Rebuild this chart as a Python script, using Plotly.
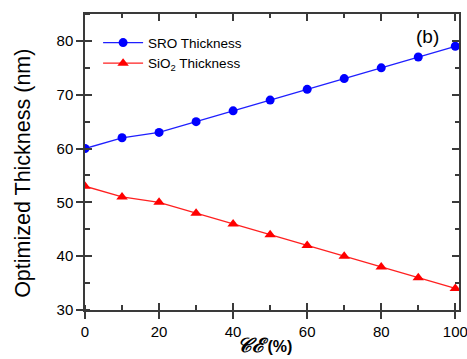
import plotly.graph_objects as go

ce = [0, 10, 20, 30, 40, 50, 60, 70, 80, 90, 100]
sro = [60, 62, 63, 65, 67, 69, 71, 73, 75, 77, 79]
sio2 = [53, 51, 50, 48, 46, 44, 42, 40, 38, 36, 34]
x_ticks = [0, 20, 40, 60, 80, 100]
y_ticks = [30, 40, 50, 60, 70, 80]

AX = "#3a3a3a"
FONT = "Liberation Sans, Arial, sans-serif"

fig = go.Figure()
fig.add_trace(go.Scatter(x=ce, y=sro, mode="lines+markers", name="SRO Thickness",
                         line=dict(color="#1f1fff", width=1.3),
                         marker=dict(symbol="circle", size=9, color="#0000ff")))
fig.add_trace(go.Scatter(x=ce, y=sio2, mode="lines+markers", name="SiO<sub>2</sub> Thickness",
                         line=dict(color="#ff2020", width=1.3),
                         marker=dict(symbol="triangle-up", size=10, color="#ff0000")))
# dummy traces for overlay tick axes
fig.add_trace(go.Scatter(x=[None], y=[None], xaxis="x2", yaxis="y2", showlegend=False, hoverinfo="skip"))
fig.add_trace(go.Scatter(x=[None], y=[None], xaxis="x3", yaxis="y3", showlegend=False, hoverinfo="skip"))

xr = [0, 101]
yr = [30, 85]

common_x = dict(range=xr, tickvals=x_ticks, showgrid=False, zeroline=False, tickcolor=AX,
                tickwidth=1.5, automargin=False)
common_y = dict(range=yr, tickvals=y_ticks, showgrid=False, zeroline=False, tickcolor=AX,
                tickwidth=1.5, automargin=False)

xtitle = ("<span style='font-family:\"DejaVu Serif\",serif;font-style:italic;font-weight:bold;font-size:20px'>𝒞ℰ</span>"
          "<b>&nbsp;(%)</b>")
ytitle = "Optimized Thickness (nm)"

fig.update_layout(
    template="none",
    width=467, height=359,
    margin=dict(l=85, r=8, t=14, b=49, autoexpand=False),
    paper_bgcolor="white", plot_bgcolor="white",
    font=dict(family=FONT, color="black"),
    showlegend=True,
    legend=dict(x=0.035, y=0.955, xanchor="left", yanchor="top", bgcolor="rgba(0,0,0,0)",
                font=dict(size=13.5, family=FONT), itemwidth=40, tracegroupgap=0),
    xaxis=dict(**common_x, side="bottom", anchor="y", ticks="outside", ticklen=7,
               showline=True, linecolor=AX, linewidth=1.5, ticklabeloverflow="allow",
               tickfont=dict(size=15, family=FONT),
               minor=dict(dtick=10, ticks="inside", ticklen=5, tickcolor=AX, tickwidth=1.5)),
    xaxis2=dict(**common_x, side="bottom", anchor="y", overlaying="x", ticks="inside", ticklen=7,
                showticklabels=False, showline=False),
    xaxis3=dict(**common_x, side="top", anchor="y", overlaying="x", ticks="inside", ticklen=7,
                showticklabels=False, showline=True, linecolor=AX, linewidth=1.5,
                minor=dict(dtick=10, ticks="inside", ticklen=4, tickcolor=AX, tickwidth=1.5)),
    yaxis=dict(**common_y, side="left", anchor="x", ticks="outside", ticklen=7,
               showline=True, linecolor=AX, linewidth=1.5,
               tickfont=dict(size=15, family=FONT),
               minor=dict(dtick=5, ticks="inside", ticklen=5, tickcolor=AX, tickwidth=1.5)),
    yaxis2=dict(**common_y, side="left", anchor="x", overlaying="y", ticks="inside", ticklen=7,
                showticklabels=False, showline=False),
    yaxis3=dict(**common_y, side="right", anchor="x", overlaying="y", ticks="inside", ticklen=7,
                showticklabels=False, showline=True, linecolor=AX, linewidth=1.5,
                minor=dict(dtick=5, ticks="inside", ticklen=4, tickcolor=AX, tickwidth=1.5)),
    annotations=[
        dict(text="(b)", xref="paper", yref="paper", x=0.952, y=0.965,
             xanchor="right", yanchor="top", showarrow=False,
             font=dict(size=19, family=FONT)),
        dict(text=ytitle, xref="paper", yref="paper", x=-0.166, y=0.463, textangle=-90,
             xanchor="center", yanchor="middle", showarrow=False,
             font=dict(size=21.5, family=FONT)),
        dict(text=xtitle, xref="paper", yref="paper", x=0.481, y=-0.118,
             xanchor="center", yanchor="middle", showarrow=False,
             font=dict(size=16, family=FONT)),
    ],
)

fig.write_html("out.html", config={"displayModeBar": False},
               post_script="document.body.style.margin='0';")
